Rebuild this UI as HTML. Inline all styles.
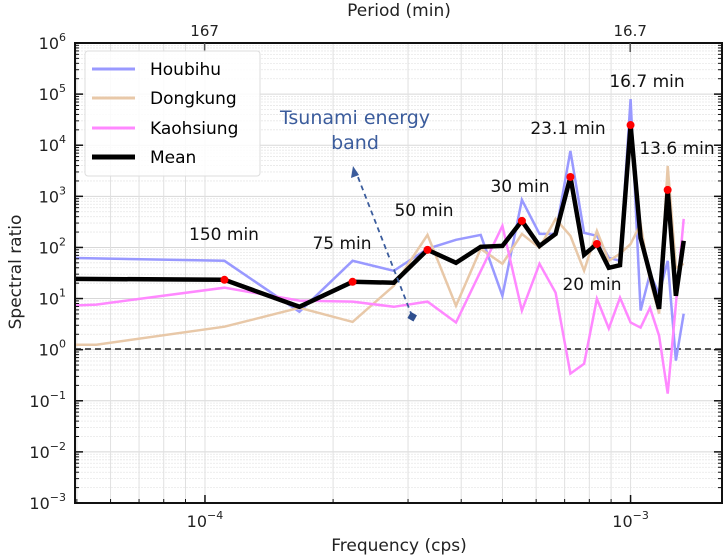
<!DOCTYPE html>
<html><head><meta charset="utf-8"><style>
html,body{margin:0;padding:0;background:#fff;}
svg{display:block;font-family:"DejaVu Sans","Liberation Sans",sans-serif;}
</style></head><body>
<svg id="chart" width="728" height="557" viewBox="0 0 728 557" xmlns="http://www.w3.org/2000/svg">
<defs><clipPath id="pc"><rect x="75" y="43" width="647" height="460"/></clipPath></defs>
<g id="grid"></g>
<line x1="75" x2="722" y1="349" y2="349" stroke="#222" stroke-width="1.5" stroke-dasharray="6,4"/>
<g id="series" clip-path="url(#pc)"></g>
<g id="axes"></g>
<g font-size="17" fill="#111">
<text x="224" y="240" text-anchor="middle">150 min</text>
<text x="342" y="249" text-anchor="middle">75 min</text>
<text x="424" y="216" text-anchor="middle">50 min</text>
<text x="520" y="192" text-anchor="middle">30 min</text>
<text x="568" y="134" text-anchor="middle">23.1 min</text>
<text x="647" y="87" text-anchor="middle">16.7 min</text>
<text x="677" y="154" text-anchor="middle">13.6 min</text>
<text x="592" y="290" text-anchor="middle">20 min</text>
</g>
<g>
<text x="355" y="124" text-anchor="middle" font-size="19" fill="#3b5c9c">Tsunami energy</text>
<text x="355" y="149" text-anchor="middle" font-size="19" fill="#3b5c9c">band</text>
<line x1="412" y1="316" x2="356" y2="172" stroke="#3b5c9c" stroke-width="1.8" stroke-dasharray="5,4"/>
<polygon points="353,166 351,178 359,175" fill="#3b5c9c"/>
<rect x="409" y="313" width="7" height="7" fill="#2f4f8f" transform="rotate(30 412 316)"/>
</g>
<g>
<rect x="85" y="51" width="175" height="125" rx="3" fill="#fff" fill-opacity="0.85" stroke="#ddd"/>
<line x1="92" x2="135" y1="69" y2="69" stroke="#9999ff" stroke-width="3"/>
<text x="150" y="75" font-size="17">Houbihu</text>
<line x1="92" x2="135" y1="98" y2="98" stroke="#e8c8a8" stroke-width="3"/>
<text x="150" y="104" font-size="17">Dongkung</text>
<line x1="92" x2="135" y1="128" y2="128" stroke="#ff88ff" stroke-width="3"/>
<text x="150" y="134" font-size="17">Kaohsiung</text>
<line x1="92" x2="135" y1="157" y2="157" stroke="#000" stroke-width="5"/>
<text x="150" y="163" font-size="17">Mean</text>
</g>
<text x="399" y="551" text-anchor="middle" font-size="17" fill="#222">Frequency (cps)</text>
<text x="399" y="16" text-anchor="middle" font-size="17" fill="#222">Period (min)</text>
<text transform="translate(21,272) rotate(-90)" text-anchor="middle" font-size="17" fill="#222">Spectral ratio</text>
</svg>
<script>
// frequency index k -> f = k/18000 cps
const houK = [0.85,2,3,4,5,6,7,8,9,10,11,12,13,14,15,16,17,18,19,20,21,22,23,24];
const houV = [62.6,54.7,5.5,54.7,34.9,94,141,176,11.3,851,184,184,7700,193,169,62.6,54.7,79900,5.8,30.5,12.4,54.7,0.61,5.05];
const dongK = [0.85,1,2,3,4,5,6,7,8,9,10,11,12,13,14,15,16,17,18,19,20,21,22,23,24];
const dongV = [1.25,1.25,2.81,6.6,3.5,17.8,176,7.2,94,47.9,184,98,362,169,35,211,54.7,75,117,289,22.3,5.05,3926,40,47.9];
const kaoK = [0.85,1,2,3,4,5,6,7,9,10,11,12,13,14,15,16,17,18,19,20,21,22,24];
const kaoV = [7.2,7.6,16.3,9.1,8.7,6.9,8.7,3.4,264,5.8,47.9,13,0.34,0.53,9.9,2.6,10.4,3.4,2.7,6.6,1.88,0.138,362];
const meanK = [0.85,2,3,4,5,6,7,8,9,10,11,12,13,14,15,16,17,18,19,21,22,23,24];
const meanV = [24.4,23.3,6.9,21.3,20.4,89.8,50,103,107,331,107,184,2393,71.7,117,40,45,24800,154,6.3,1334,11.3,135];
const peakK = [2,4,6,10,13,15,18,22];
const peakV = [23.3,21.3,89.8,331,2393,117,24800,1334];
const yTickExp = [-3,-2,-1,0,1,2,3,4,5,6];
const xTickExp = [-4,-3];
const topTickLabels = ["167","16.7"];
const topTickPeriodMin = [167,16.7];

const NS="http://www.w3.org/2000/svg";
const L=75,R=722,T=43,B=503;
const xMin=Math.log10(4.95e-5), xMax=Math.log10(1.64e-3);
function xs(f){return L+(Math.log10(f)-xMin)/(xMax-xMin)*(R-L);}
function ys(v){return B-(Math.log10(v)+3)/9*(B-T);}
function kf(k){return k/18000;}
function mk(tag,attrs,parent){const e=document.createElementNS(NS,tag);for(const a in attrs)e.setAttribute(a,attrs[a]);parent.appendChild(e);return e;}
const grid=document.getElementById('grid'),axes=document.getElementById('axes'),series=document.getElementById('series');
for(let e=-3;e<6;e++){for(let m=1;m<10;m++){const y=ys(m*Math.pow(10,e));
 const ln=mk('line',{x1:L,x2:R,y1:y,y2:y,stroke:m==1?'#d8d8d8':'#e8e8e8','stroke-width':m==1?1:0.8,'stroke-dasharray':m==1?'':'2,1'},grid);
 
 }}
for(let e=-5;e<-2;e++){for(let m=1;m<10;m++){const f=m*Math.pow(10,e);const x=xs(f);if(x<L||x>R)continue;
 const ln=mk('line',{x1:x,x2:x,y1:T,y2:B,stroke:'#e0e0e0','stroke-width':1},grid);
 
 }}
function line(K,V,color,w,name){const pts=K.map((k,i)=>xs(kf(k)).toFixed(1)+','+ys(V[i]).toFixed(1)).join(' ');
 const p=mk('polyline',{points:pts,fill:'none',stroke:color,'stroke-width':w,'stroke-linejoin':'miter'},series);
 
 }
line(houK,houV,'#9999ff',2.5,'houbihu-line');
line(dongK,dongV,'#e8c8a8',2.5,'dongkung-line');
line(kaoK,kaoV,'#ff88ff',2.5,'kaohsiung-line');
line(meanK,meanV,'#000',4.5,'mean-line');
peakK.forEach((k,i)=>{const c=mk('circle',{cx:xs(kf(k)),cy:ys(peakV[i]),r:4,fill:'#ff0000'},series);
 
 });
const fr=mk('rect',{x:L,y:T,width:R-L,height:B-T,fill:'none',stroke:'#111','stroke-width':2},axes);


for(let e=-3;e<=6;e++){for(let m=1;m<10;m++){if(e==6&&m>1)break;const y=ys(m*Math.pow(10,e));const len=m==1?8:4;
 const t1=mk('line',{x1:L,x2:L+len,y1:y,y2:y,stroke:'#111','stroke-width':m==1?1.5:1},axes);
 
 
 const t2=mk('line',{x1:R,x2:R-len,y1:y,y2:y,stroke:'#111','stroke-width':m==1?1.5:1},axes);
 
 }}
yTickExp.forEach(e=>{const y=ys(Math.pow(10,e));
 const t=mk('text',{x:66,y:y+6,'text-anchor':'end','font-size':16,fill:'#222'},axes);
 
 
 t.appendChild(document.createTextNode('10'));
 const s=mk('tspan',{dy:-8,'font-size':11},t);s.textContent=e<0?'\u2212'+(-e):String(e);});
for(let e=-5;e<-2;e++){for(let m=1;m<10;m++){const x=xs(m*Math.pow(10,e));if(x<=L||x>=R)continue;const len=m==1?8:4;
 const t=mk('line',{x1:x,x2:x,y1:B,y2:B-len,stroke:'#111','stroke-width':m==1?1.5:1},axes);
 
 }}
xTickExp.forEach(e=>{const x=xs(Math.pow(10,e));
 const t=mk('text',{x:x,y:527,'text-anchor':'middle','font-size':16,fill:'#222'},axes);
 
 
 t.appendChild(document.createTextNode('10'));
 const s=mk('tspan',{dy:-8,'font-size':11},t);s.textContent='\u2212'+(-e);});
topTickPeriodMin.forEach((p,i)=>{const x=xs(1/(p*60));
 const tk=mk('line',{x1:x,x2:x,y1:T,y2:T+9,stroke:'#555','stroke-width':1.5},axes);
 
 
 const t=mk('text',{x:x,y:36,'text-anchor':'middle','font-size':15,fill:'#222'},axes);
 
 
 t.textContent=topTickLabels[i];});
</script>
</body></html>
